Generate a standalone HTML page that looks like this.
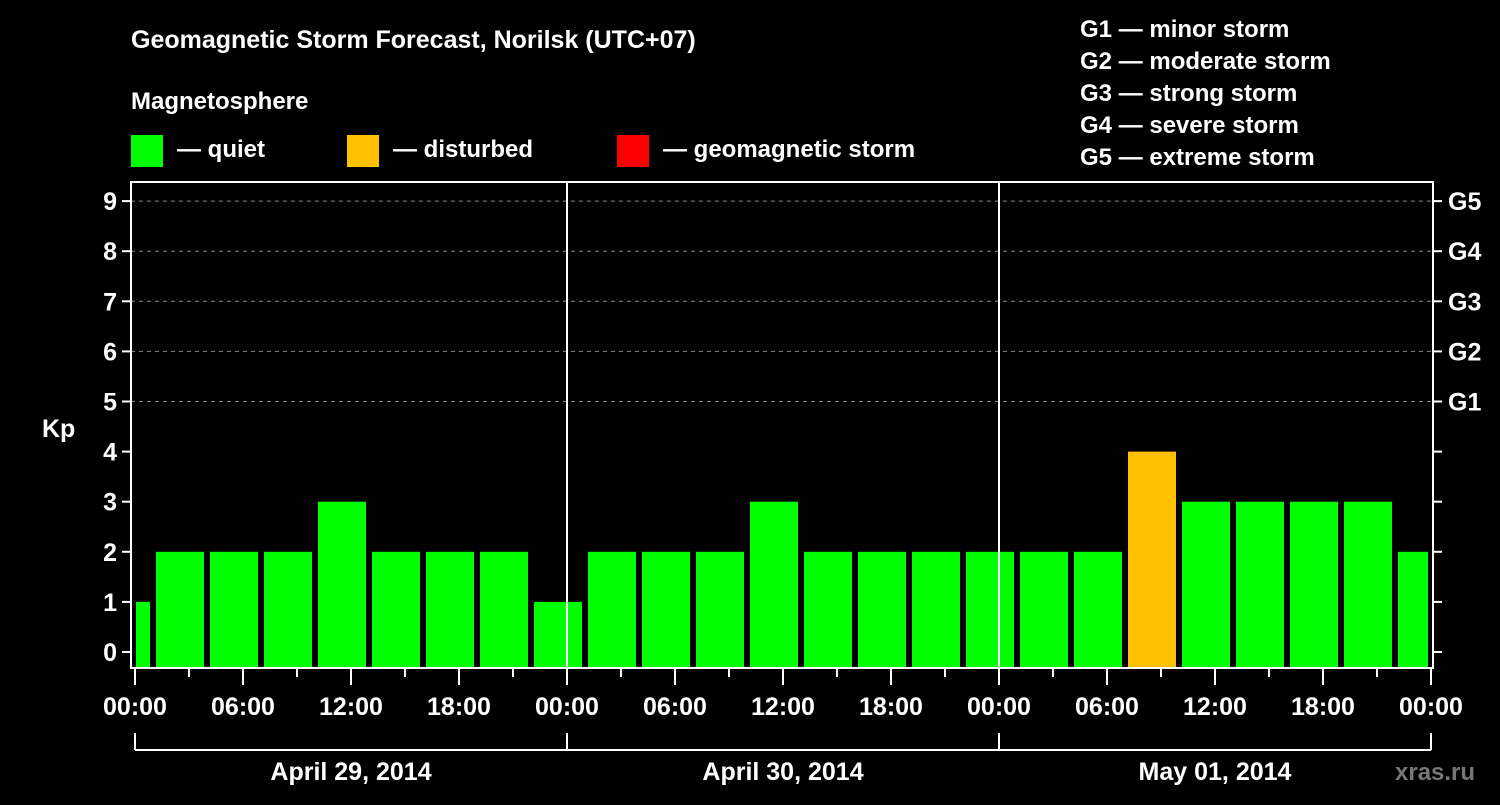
<!DOCTYPE html>
<html><head><meta charset="utf-8"><style>
body{margin:0;background:#000;}
svg text{font-family:"Liberation Sans",sans-serif;font-weight:bold;fill:#fff;}
</style></head><body>
<svg id="chart" width="1500" height="800" viewBox="0 0 1500 800" xmlns="http://www.w3.org/2000/svg">
<rect width="1500" height="800" fill="#000"/>
<text x="131" y="48" font-size="25">Geomagnetic Storm Forecast, Norilsk (UTC+07)</text>
<text x="131" y="109" font-size="24">Magnetosphere</text>
<g><rect x="131" y="135" width="32" height="32" fill="#00ff00"/><text x="177" y="157" font-size="24">— quiet</text></g>
<g><rect x="347" y="135" width="32" height="32" fill="#ffc000"/><text x="393" y="157" font-size="24">— disturbed</text></g>
<g><rect x="617" y="135" width="32" height="32" fill="#ff0000"/><text x="663" y="157" font-size="24">— geomagnetic storm</text></g>
<g font-size="24">
<text x="1080" y="37">G1 — minor storm</text>
<text x="1080" y="69">G2 — moderate storm</text>
<text x="1080" y="101">G3 — strong storm</text>
<text x="1080" y="133">G4 — severe storm</text>
<text x="1080" y="165">G5 — extreme storm</text>
</g>
<g id="grid"></g><g id="bars"></g><g id="axes"></g>
<text x="42" y="437" font-size="25">Kp</text>
<text x="1395" y="780" font-size="24" fill="#777" style="fill:#777">xras.ru</text>
</svg>
<script>
const values=[1,2,2,2,3,2,2,2,1,2,2,2,3,2,2,2,2,2,2,4,3,3,3,3,2];
const startHour=-2, stepHours=3;
const dayLabels=["April 29, 2014","April 30, 2014","May 01, 2014"];
const hourLabels=["00:00","06:00","12:00","18:00"];
const gLabels=["G1","G2","G3","G4","G5"];
const NS="http://www.w3.org/2000/svg";
const L=131,R=1433,T=182,B=668,X0=135,PXH=18,Y0=652,PXK=50.1;
const x=h=>X0+h*PXH, y=k=>Y0-k*PXK;
function mk(tag,attrs,parent){const e=document.createElementNS(NS,tag);for(const k in attrs)e.setAttribute(k,attrs[k]);document.getElementById(parent).appendChild(e);return e;}
for(let k=5;k<=9;k++){const e=mk('line',{x1:L,x2:R,y1:y(k),y2:y(k),stroke:'#888','stroke-dasharray':'4 4','stroke-width':1},'grid');

}
values.forEach((v,i)=>{const h0=startHour+i*stepHours;let a=x(h0)+3,b=x(h0+stepHours)-3;a=Math.max(a,L+5);b=Math.min(b,R-5);
const c=v>=5?'#ff0000':(v>=4?'#ffc000':'#00ff00');
const e=mk('rect',{x:a,y:y(v),width:b-a,height:B-y(v),fill:c},'bars');

});
// day separators
for(let d=1;d<3;d++){const e=mk('line',{x1:x(24*d),x2:x(24*d),y1:T,y2:B,stroke:'#fff','stroke-width':2},'axes');

}
const fr=mk('rect',{x:L,y:T,width:R-L,height:B-T,fill:'none',stroke:'#fff','stroke-width':2},'axes');


for(let k=0;k<=9;k++){
mk('line',{x1:L-9,x2:L,y1:y(k),y2:y(k),stroke:'#fff','stroke-width':2},'axes');
mk('line',{x1:R,x2:R+9,y1:y(k),y2:y(k),stroke:'#fff','stroke-width':2},'axes');
const t=mk('text',{x:L-14,y:y(k)+9,'font-size':25,'text-anchor':'end'},'axes');t.textContent=k;


if(k>=5){const g=mk('text',{x:R+15,y:y(k)+9,'font-size':25},'axes');g.textContent=gLabels[k-5];

}}
for(let h=0;h<=72;h+=3){const long=h%6===0;mk('line',{x1:x(h),x2:x(h),y1:B,y2:long?B+17:B+9,stroke:'#fff','stroke-width':2},'axes');
if(long){const t=mk('text',{x:x(h),y:B+47,'font-size':25,'text-anchor':'middle'},'axes');t.textContent=hourLabels[(h/6)%4];

}}
mk('line',{x1:x(0),x2:x(72),y1:750,y2:750,stroke:'#fff','stroke-width':2},'axes');
for(let d=0;d<=3;d++)mk('line',{x1:x(24*d),x2:x(24*d),y1:733,y2:750,stroke:'#fff','stroke-width':2},'axes');
dayLabels.forEach((s,d)=>{const t=mk('text',{x:x(24*d+12),y:780,'font-size':25,'text-anchor':'middle'},'axes');t.textContent=s;

});
</script>
</body></html>
